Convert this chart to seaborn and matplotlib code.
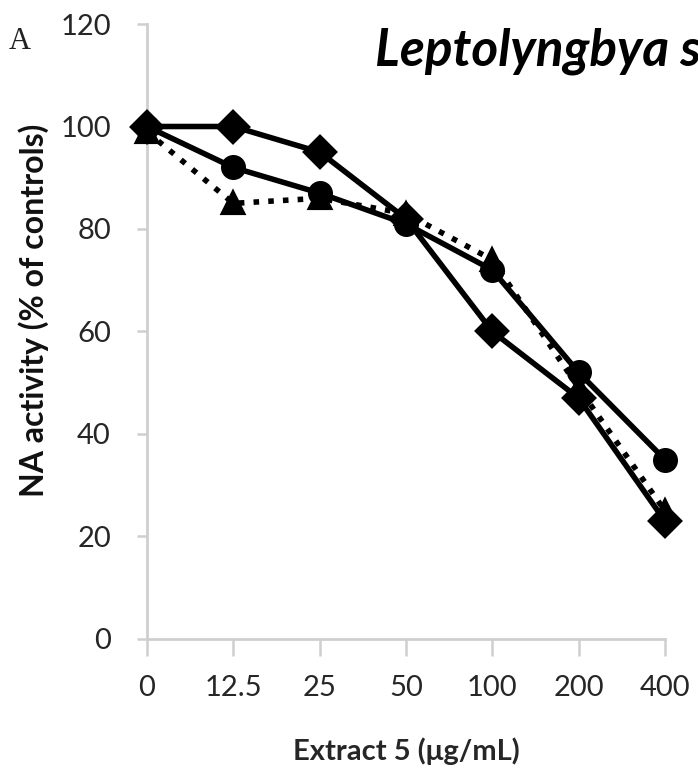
import matplotlib
matplotlib.use("Agg")
import matplotlib.pyplot as plt
import pandas as pd
import seaborn as sns

# Extract concentrations (µg/mL), shown as equally spaced categories
concentrations = ["0", "12.5", "25", "50", "100", "200", "400"]

# NA activity (% of controls) for the three replicate series
series_triangle = [99, 85, 86, 83, 74, 49, 25]
series_circle = [100, 92, 87, 81, 72, 52, 35]
series_diamond = [100, 100, 95, 82, 60, 47, 23]
series_names = ["triangle", "circle", "diamond"]

y_ticks = [0, 20, 40, 60, 80, 100, 120]

frames = []
for name, values in zip(series_names, [series_triangle, series_circle, series_diamond]):
    frames.append(pd.DataFrame({"conc": concentrations, "activity": values, "series": name}))
df = pd.concat(frames, ignore_index=True)

sns.set_theme(style="white")
plt.rcParams["font.family"] = ["Lato", "DejaVu Sans"]

fig = plt.figure(figsize=(6.98, 7.82), dpi=100)
ax = fig.add_axes([0.2106, 0.1829, 0.7421, 0.7864])

sns.pointplot(
    data=df, x="conc", y="activity", hue="series",
    order=concentrations, hue_order=series_names,
    palette=["black", "black", "black"],
    markers=["^", "o", "D"],
    linestyles=[":", "-", "-"],
    dodge=False, errorbar=None, legend=False, ax=ax,
    markersize=15, linewidth=4,
)
for line in ax.lines:
    line.set_clip_on(False)
    line.set_zorder(3)

ax.set_xlim(0, len(concentrations) - 1)
ax.set_ylim(0, 120)
ax.set_yticks(y_ticks)
ax.set_yticklabels([str(v) for v in y_ticks])

for side in ["top", "right"]:
    ax.spines[side].set_visible(False)
for side in ["left", "bottom"]:
    ax.spines[side].set_color("#cfcfcf")
    ax.spines[side].set_linewidth(2)

ax.tick_params(axis="both", which="major", direction="out", color="#cfcfcf",
               width=1.8, labelsize=21, labelcolor="#262626")
ax.tick_params(axis="y", length=7, pad=19)
ax.tick_params(axis="x", length=12, pad=14)
ax.xaxis.set_ticks_position("bottom")
ax.yaxis.set_ticks_position("left")

ax.set_xlabel("Extract 5 (μg/mL)", fontsize=21, fontweight="bold", color="#262626")
ax.xaxis.set_label_coords(0.5, -0.16)
ax.set_ylabel("NA activity (% of controls)", fontsize=23, fontweight="bold", color="#111111")
ax.yaxis.set_label_coords(-0.19, 0.535)

# Species name runs past the right edge of the panel
fig.text(0.537, 0.935, "Leptolyngbya sp.", fontsize=37, fontweight="bold", fontstyle="italic",
         color="black", ha="left", va="center")
fig.text(0.012, 0.947, "A", fontsize=22, family=["Liberation Serif", "DejaVu Serif"],
         color="#222222", ha="left", va="center")

fig.savefig("out.png", dpi=100)
